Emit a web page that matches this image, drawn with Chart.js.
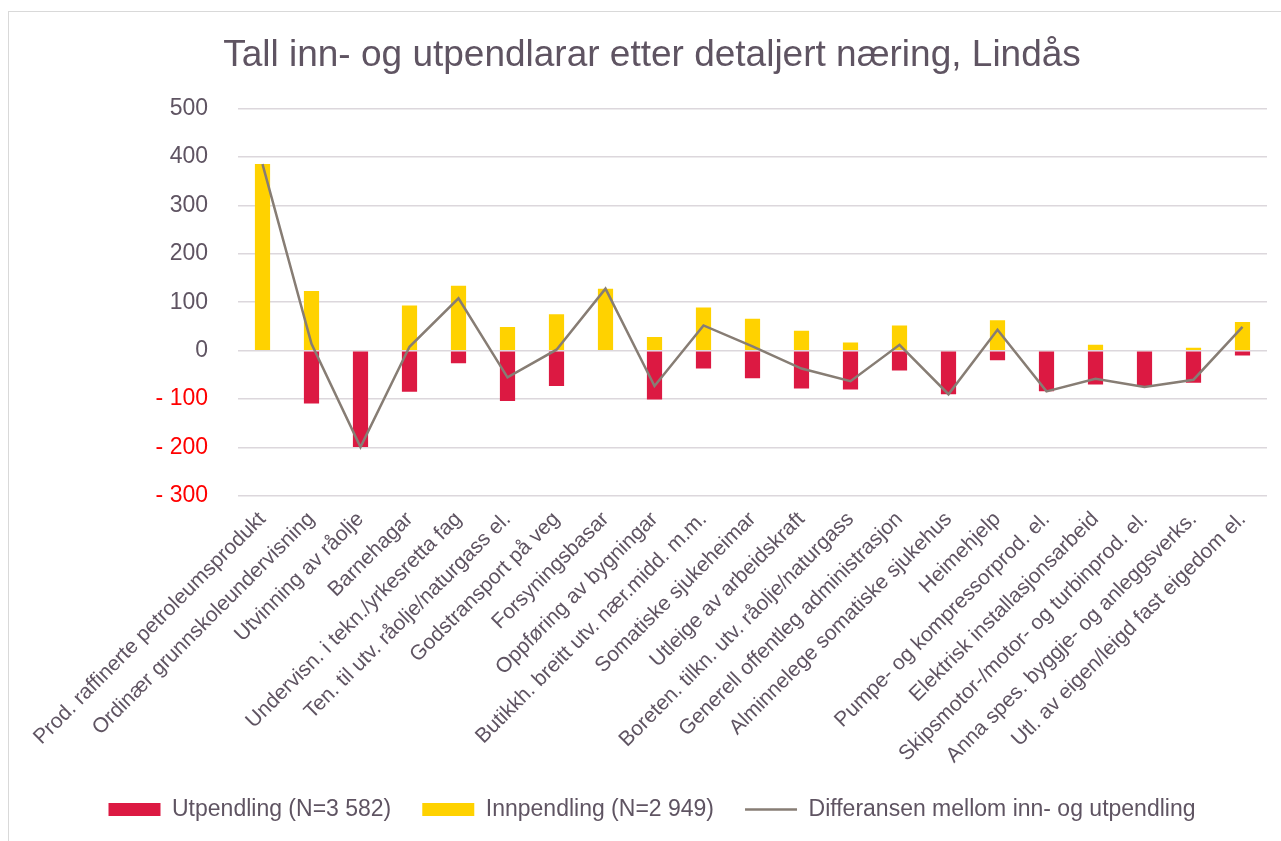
<!DOCTYPE html>
<html>
<head>
<meta charset="utf-8">
<script src="https://cdn.jsdelivr.net/npm/chart.js@4"></script>
<style>
  html, body { margin: 0; padding: 0; background: #fff; }
  #wrap { position: relative; width: 1281px; height: 841px; overflow: hidden; }
  #frame { position: absolute; left: 8px; top: 11px; width: 1300px; height: 900px; border: 1px solid #d9d9d9; }
  canvas { position: absolute; left: 0; top: 0; }
</style>
</head>
<body>
<div id="wrap">
  <div id="frame"></div>
  <canvas id="chart" width="1281" height="841"></canvas>
</div>
<script>
const naeringar = [
  'Prod. raffinerte petroleumsprodukt',
  'Ordinær grunnskoleundervisning',
  'Utvinning av råolje',
  'Barnehagar',
  'Undervisn. i tekn./yrkesretta fag',
  'Ten. til utv. råolje/naturgass el.',
  'Godstransport på veg',
  'Forsyningsbasar',
  'Oppføring av bygningar',
  'Butikkh. breitt utv. nær.midd. m.m.',
  'Somatiske sjukeheimar',
  'Utleige av arbeidskraft',
  'Boreten. tilkn. utv. råolje/naturgass',
  'Generell offentleg administrasjon',
  'Alminnelege somatiske sjukehus',
  'Heimehjelp',
  'Pumpe- og kompressorprod. el.',
  'Elektrisk installasjonsarbeid',
  'Skipsmotor-/motor- og turbinprod. el.',
  'Anna spes. byggje- og anleggsverks.',
  'Utl. av eigen/leigd fast eigedom el.'
];
const utpendling = [0, -109, -199, -85, -26, -104, -73, 0, -101, -37, -57, -78, -80, -41, -90, -20, -84, -70, -75, -66, -10];
const innpendling = [385, 123, 0, 93, 134, 49, 75, 128, 28, 89, 66, 41, 17, 52, 0, 63, 0, 12, 0, 6, 59];
const differanse = [385, 14, -199, 8, 108, -55, 2, 128, -73, 52, 9, -37, -63, 12, -90, 43, -84, -58, -75, -60, 49];

const tekstFarge = '#5f5462';
const font = 'Arial, "Liberation Sans", sans-serif';

new Chart(document.getElementById('chart').getContext('2d'), {
  data: {
    labels: naeringar,
    datasets: [
      {
        type: 'bar',
        label: 'Utpendling (N=3 582)',
        data: utpendling,
        backgroundColor: '#dc1942',
        stack: 'pendling',
        pointStyle: 'rect',
        barPercentage: 0.31,
        categoryPercentage: 1,
        order: 2
      },
      {
        type: 'bar',
        label: 'Innpendling (N=2 949)',
        data: innpendling,
        backgroundColor: '#ffd200',
        stack: 'pendling',
        pointStyle: 'rect',
        barPercentage: 0.31,
        categoryPercentage: 1,
        order: 2
      },
      {
        type: 'line',
        label: 'Differansen mellom inn- og utpendling',
        data: differanse,
        borderColor: '#877d74',
        backgroundColor: '#877d74',
        borderWidth: 2.5,
        pointRadius: 0,
        pointStyle: 'line',
        tension: 0,
        stack: 'diff',
        order: 1
      }
    ]
  },
  options: {
    responsive: false,
    animation: false,
    layout: { padding: { left: 37, right: 14, top: 10, bottom: 10 } },
    plugins: {
      title: {
        display: true,
        text: 'Tall inn- og utpendlarar etter detaljert næring, Lindås',
        color: tekstFarge,
        font: { family: font, size: 37, weight: 'normal' },
        padding: { top: 24, bottom: 30 }
      },
      legend: {
        position: 'bottom',
        labels: {
          usePointStyle: true,
          pointStyleWidth: 52,
          boxHeight: 13,
          color: tekstFarge,
          font: { family: font, size: 23 },
          padding: 31,
          sort: (a, b) => a.datasetIndex - b.datasetIndex
        }
      },
      tooltip: { enabled: false }
    },
    scales: {
      x: {
        stacked: true,
        grid: { display: false },
        border: { display: false },
        afterFit: axis => { axis.height = 271; },
        ticks: {
          autoSkip: false,
          maxRotation: 45,
          minRotation: 45,
          color: tekstFarge,
          font: { family: font, size: 21 }
        }
      },
      y: {
        stacked: true,
        min: -300,
        max: 500,
        afterFit: axis => { axis.width = 201; },
        grid: { color: '#dcd7dc', lineWidth: 1.5, drawTicks: false },
        border: { display: false },
        ticks: {
          stepSize: 100,
          padding: 30,
          font: { family: font, size: 23 },
          color: ctx => ctx.tick.value < 0 ? '#ff0000' : tekstFarge,
          callback: v => v < 0 ? '- ' + Math.abs(v) : v
        }
      }
    }
  }
});
</script>
</body>
</html>
